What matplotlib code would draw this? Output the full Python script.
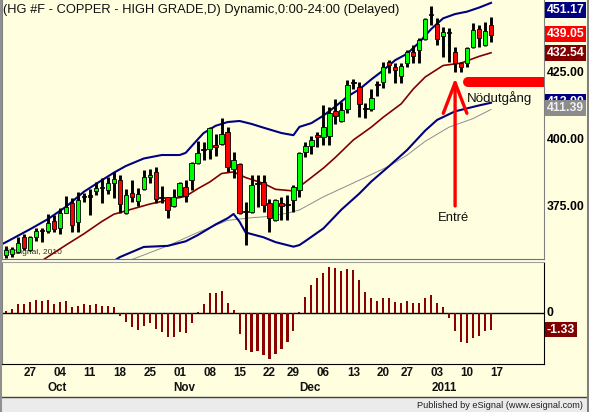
import numpy as np
import matplotlib
matplotlib.use("Agg")
import matplotlib.pyplot as plt
from matplotlib.patches import Rectangle
from matplotlib.lines import Line2D

plt.rcParams['font.family'] = ['Liberation Sans', 'DejaVu Sans']

BG = '#FFFFE0'

# trading-day index: 0 = Mon 27 Sep 2010 ... 77 = Fri 14 Jan 2011
day_idx = np.arange(-4, 78)

opens = [357.1, 357.5, 358.3, 363.9, 359.0, 363.7, 365.9, 366.1, 369.8, 367.2,
         372.9, 376.4, 369.5, 378.6, 378.9, 381.0, 382.2, 381.3, 383.8, 385.1,
         372.9, 380.1, 377.2, 381.6, 386.1, 388.2, 378.3, 378.6, 375.4, 379.1,
         382.4, 385.1, 391.3, 396.3, 396.5, 398.1, 398.4, 403.1, 389.1, 391.0,
         373.0, 373.3, 383.6, 384.4, 376.6, 370.2, 376.6, 375.8, 377.6, 381.3,
         395.6, 397.8, 401.9, 401.0, 401.5, 410.9, 407.2, 411.5, 421.2, 419.9,
         411.6, 411.5, 420.5, 421.8, 429.2, 427.4, 423.9, 428.6, 432.9, 433.6,
         437.6, 446.6, 443.3, 438.8, 439.9, 432.9, 428.6, 428.6, 434.8, 441.3,
         435.4, 442.9]
highs = [360.4, 360.1, 363.8, 364.9, 364.3, 367.2, 367.2, 372.4, 372.0, 374.7,
         379.1, 378.5, 380.7, 380.3, 381.7, 384.2, 386.0, 386.1, 388.2, 386.9,
         381.6, 385.1, 382.0, 388.8, 389.2, 389.8, 382.8, 378.9, 381.7, 384.4,
         385.1, 391.9, 399.6, 399.4, 404.7, 402.2, 408.1, 404.7, 395.4, 391.4,
         377.0, 386.9, 386.9, 386.9, 377.9, 377.9, 378.6, 379.5, 383.2, 395.6,
         399.4, 401.5, 403.1, 413.1, 412.2, 415.2, 414.3, 422.4, 422.6, 421.8,
         413.7, 418.9, 422.1, 429.2, 429.9, 428.6, 428.6, 433.6, 435.4, 437.9,
         445.4, 450.0, 445.4, 442.3, 441.7, 434.8, 429.2, 434.8, 443.5, 442.9,
         444.1, 446.0]
lows = [355.9, 356.4, 357.8, 359.0, 358.7, 362.4, 362.1, 365.4, 365.8, 364.9,
        372.7, 365.8, 365.8, 377.0, 372.0, 379.5, 376.4, 379.9, 378.3, 372.7,
        372.4, 377.0, 375.4, 381.3, 383.8, 376.4, 376.6, 370.8, 375.1, 378.6,
        376.9, 381.3, 391.0, 392.5, 392.8, 394.0, 398.1, 388.2, 385.7, 372.4,
        361.0, 372.7, 375.1, 373.3, 365.8, 369.9, 370.2, 370.2, 373.3, 378.9,
        393.5, 394.8, 397.5, 398.1, 398.1, 406.0, 406.8, 410.2, 418.9, 408.5,
        408.1, 410.9, 416.4, 419.3, 424.9, 421.2, 421.2, 427.4, 428.6, 428.6,
        437.3, 442.9, 435.4, 431.1, 429.2, 425.5, 425.5, 427.4, 434.5, 434.8,
        435.2, 436.7]
closes = [358.9, 359.3, 361.7, 359.8, 363.8, 366.2, 365.9, 369.0, 366.8, 372.8,
          375.1, 368.3, 377.6, 378.6, 378.9, 382.2, 382.2, 383.8, 385.3, 376.0,
          379.5, 378.6, 379.7, 386.1, 386.9, 377.9, 378.3, 373.9, 378.6, 384.1,
          379.1, 391.5, 395.0, 396.3, 404.4, 397.5, 402.2, 389.8, 392.5, 372.9,
          373.0, 383.2, 383.6, 375.8, 370.8, 377.6, 375.5, 375.8, 382.4, 395.0,
          397.8, 400.0, 401.0, 404.7, 410.0, 409.0, 411.2, 420.5, 421.2, 413.4,
          411.6, 415.8, 420.5, 427.4, 428.0, 426.1, 427.6, 432.9, 431.3, 437.3,
          445.0, 446.6, 437.6, 440.4, 439.9, 428.6, 427.4, 434.2, 441.0, 438.0,
          440.8, 439.05]

# oscillator histogram (lower pane)
hist = [0.13, 0.29, 0.69, 0.69, 0.88, 1.01, 0.93, 1.01, 0.69, 0.88,
        0.93, 0.48, 0.56, 0.69, 0.61, 0.69, 0.56, 0.56, 0.45, -0.21,
        -0.75, -1.12, -1.39, -1.04, -0.80, -1.28, -1.55, -1.92, -1.92, -1.52,
        -1.60, -0.80, 0.08, 0.72, 1.57, 1.57, 1.73, 0.80, 0.21, -1.71,
        -2.99, -3.12, -3.04, -3.39, -3.68, -3.31, -2.88, -2.32, -1.44, 0.08,
        1.28, 2.21, 2.80, 3.23, 3.68, 3.60, 3.33, 3.49, 3.41, 2.61,
        1.65, 1.17, 0.93, 1.17, 1.17, 0.85, 0.77, 0.93, 0.77, 0.80,
        1.17, 1.44, 0.80, 0.48, -0.37, -1.44, -2.32, -2.40, -2.00, -1.84,
        -1.44, -1.33]

# Bollinger bands and long average
upper_idx = [-5, -4, -2, 0, 3, 6, 9, 12, 14, 16, 19, 22, 25, 26, 28, 29, 31, 33, 35,
             37, 39, 42, 44, 45, 47, 49, 51, 53, 55, 57, 59, 61, 63, 65, 67, 69,
             71, 73, 75, 77]
upper_val = [360.8, 361.9, 364.3, 366.7, 370.5, 375.1, 380.7, 385.0, 387.8, 390.3,
             393.1, 394.4, 394.4, 395.2, 400.2, 402.6, 405.3, 406.7, 407.1, 406.0,
             404.6, 402.6, 401.8, 404.9, 406.3, 409.1, 412.5, 416.2, 418.9, 422.6,
             426.0, 429.8, 432.2, 436.4, 441.4, 445.4, 447.0, 447.9, 449.4, 451.17]
mid_idx = [1, 2, 6, 9, 12, 14, 17, 20, 23, 26, 28, 30, 32, 34, 36, 39, 41, 44, 45,
           46, 49, 51, 54, 57, 59, 62, 64, 66, 69, 72, 75, 77]
mid_val = [352.5, 355.0, 360.8, 365.0, 369.6, 372.3, 374.2, 376.1, 377.6, 379.0,
           381.8, 384.3, 387.5, 388.1, 386.0, 383.8, 381.6, 381.0, 382.6, 384.3,
           389.5, 393.5, 400.0, 404.8, 408.5, 413.5, 419.0, 423.5, 427.8, 428.7,
           431.2, 432.54]
lower_idx = [12, 15, 19, 23, 26, 28, 31, 33, 34, 35, 36, 39, 41, 44, 45, 46, 49,
             52, 55, 57, 60, 63, 66, 68, 71, 75, 77]
lower_val = [352.0, 356.3, 360.1, 360.5, 362.2, 364.5, 368.5, 370.8, 372.4, 369.5,
             365.5, 363.7, 361.9, 360.2, 360.8, 362.3, 367.0, 374.0, 380.0, 384.5,
             390.3, 396.3, 403.5, 407.5, 410.7, 412.9, 413.9]
slow_idx = [16, 17, 23, 28, 33, 37, 40, 43, 45, 49, 55, 60, 63, 66, 70, 74, 77]
slow_val = [354.0, 355.4, 360.5, 365.5, 370.0, 371.0, 371.5, 372.7, 373.9, 378.8,
            385.0, 390.3, 394.4, 399.5, 404.8, 408.0, 411.39]

week_idx = [0, 5, 10, 15, 20, 25, 30, 35, 40, 44, 49, 54, 59, 63, 68, 73, 78]
week_labels = ['27', '04', '11', '18', '25', '01', '08', '15', '22', '29',
               '06', '13', '20', '27', '03', '10', '17']
month_idx = [4, 25, 46, 68]   # first trading day of the month
month_labels = ['Oct', 'Nov', 'Dec', '2011']

entry_idx = 71
exit_level = 421.6

fig = plt.figure(figsize=(5.89, 4.12), dpi=100, facecolor=BG)
ax = fig.add_axes([2 / 589, 1 - 259 / 412, 542 / 589, 259 / 412], facecolor=BG)
ax2 = fig.add_axes([2 / 589, 1 - 364 / 412, 542 / 589, 102 / 412], facecolor=BG)

for a in (ax, ax2):
    a.set_xlim(-4.68, 85.85)
    a.set_xticks([])
    a.set_yticks([])
ax.set_ylim(355.6, 452.24)
ax2.set_ylim(-4.08, 4.08)

ax.spines['top'].set_visible(False)
ax.spines['left'].set_color('#808080')
ax.spines['right'].set_color('#808080')
ax.spines['bottom'].set_color('#707070')
ax2.spines['top'].set_color('#a0a0a0')
ax2.spines['left'].set_color('#808080')
ax2.spines['right'].set_color('black')
ax2.spines['bottom'].set_color('black')

# bands and averages
ax.plot(slow_idx, slow_val, color='#8c8c8c', lw=0.7, zorder=2)
ax.plot(upper_idx, upper_val, color='#000080', lw=1.5, zorder=2)
ax.plot(lower_idx, lower_val, color='#000080', lw=1.5, zorder=2)
ax.plot(mid_idx, mid_val, color='#800000', lw=1.2, zorder=2)

# candles
o = np.array(opens)
c = np.array(closes)
colors = np.where(c > o, '#00FF00', np.where(c < o, '#FF0000', 'black'))
bottoms = np.minimum(o, c)
heights = np.maximum(np.abs(c - o), 0.4)
ax.vlines(day_idx, lows, highs, color='black', lw=2.1, zorder=3)
ax.bar(day_idx, heights, width=0.75, bottom=bottoms, color=colors,
       edgecolor='black', linewidth=0.6, zorder=4)

# histogram
ax2.bar(day_idx, hist, width=0.35, color='#8B0000', zorder=3)
ax2.axhline(0, color='black', lw=1.0, zorder=2)

# title and watermark
ax.text(0.002, 0.962, '(HG #F - COPPER - HIGH GRADE,D) Dynamic,0:00-24:00 (Delayed)',
        transform=ax.transAxes, ha='left', va='center', fontsize=9.3, color='#101010')
ax.text(0.004, 0.027, '\u00a9eSignal, 2010', transform=ax.transAxes, ha='left',
        va='center', fontsize=6.0, color='#303030', zorder=1)

# annotations
ax.annotate('', xy=(entry_idx, 423.1), xytext=(entry_idx, 375.4),
            arrowprops=dict(arrowstyle='->,head_length=2.2,head_width=0.85',
                            color='#FF0000', lw=2.4, shrinkA=0, shrinkB=0), zorder=6)
ax.text(entry_idx - 0.3, 370.8, 'Entr\u00e9', ha='center', va='center', fontsize=9.4,
        color='#101010', zorder=6)
ax.plot([entry_idx + 2.1, 90], [exit_level, exit_level], color='#FF0000', lw=7.2,
        solid_capstyle='round', zorder=6)
ax.text(entry_idx + 2.0, 415.7, 'N\u00f6dutg\u00e5ng', ha='left', va='center',
        fontsize=9.6, color='#101010', zorder=6)

# right-hand value tags
def tag(axis, y, text, fc=None, tc='black'):
    box = dict(boxstyle='square,pad=0.14', fc=fc, ec='none') if fc else None
    axis.text(1.005, y, text, transform=axis.get_yaxis_transform(), ha='left',
              va='center', fontsize=8.8, fontweight='bold', color=tc, bbox=box,
              clip_on=False)

top = ax.get_ylim()[1]
tag(ax, 425, '425.00')
tag(ax, 400, '400.00')
tag(ax, 375, '375.00')
tag(ax, min(upper_val[-1], top - 3.7), f'{upper_val[-1]:.2f}', '#000080', 'white')
tag(ax, closes[-1] + 0.5, f'{closes[-1]:.2f}', '#FF0000', 'white')
tag(ax, mid_val[-1], f'{mid_val[-1]:.2f}', '#800000', 'white')
# lower band tag sits mostly under the long-average tag, as in the original
tag(ax, lower_val[-1] + 0.3, f'{lower_val[-1]:.2f}', '#000080', 'white')
tag(ax, slow_val[-1] + 0.6, f'{slow_val[-1]:.2f}', '#8c8c8c', '#f0f0f0')
tag(ax2, 0, '0')
tag(ax2, hist[-1], f'{hist[-1]:.2f}', '#800000', 'white')

# date axis
for i, lab in zip(week_idx, week_labels):
    ax2.text(i, -0.088, lab, transform=ax2.get_xaxis_transform(), ha='center',
             va='center', fontsize=8.4, fontweight='bold', color='#101010', clip_on=False)
for i, lab in zip(month_idx, month_labels):
    ax2.text(i - 1, -0.235, lab, transform=ax2.get_xaxis_transform(), ha='left',
             va='center', fontsize=8.4, fontweight='bold', color='#101010', clip_on=False)

# status bar and frame
fig.patches.append(Rectangle((0, 0), 1, 15 / 412, transform=fig.transFigure,
                             fc='#EBEBEB', ec='none', zorder=0))
fig.add_artist(Line2D([0, 1], [15 / 412, 15 / 412], transform=fig.transFigure,
                      color='#404040', lw=1.0))
fig.text(583 / 589, 7 / 412, 'Published by eSignal (www.esignal.com)', ha='right',
         va='center', fontsize=6.6, color='#202020')
fig.add_artist(Line2D([1 / 589, 1 / 589], [0, 1], transform=fig.transFigure,
                      color='#909090', lw=1.5))
fig.add_artist(Line2D([587.5 / 589, 587.5 / 589], [0, 1], transform=fig.transFigure,
                      color='#808080', lw=1.5))

fig.savefig('out.png', dpi=100, facecolor=BG)
